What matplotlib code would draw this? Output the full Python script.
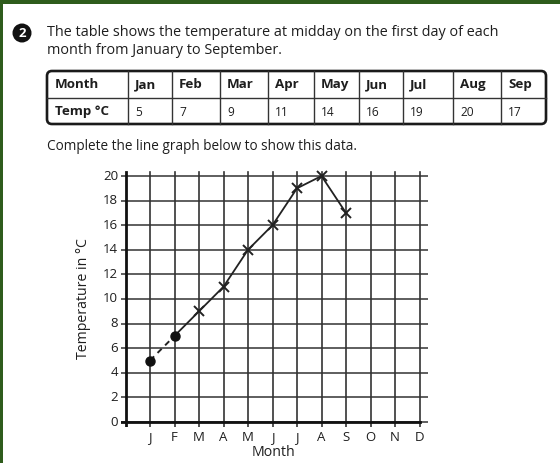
import matplotlib
matplotlib.use("Agg")
import matplotlib.pyplot as plt
from matplotlib.patches import FancyBboxPatch, Circle, Rectangle

# ---- data ----
table_months = ["Jan", "Feb", "Mar", "Apr", "May", "Jun", "Jul", "Aug", "Sep"]
table_temps = [5, 7, 9, 11, 14, 16, 19, 20, 17]
axis_month_letters = ["J", "F", "M", "A", "M", "J", "J", "A", "S", "O", "N", "D"]
y_ticks = [0, 2, 4, 6, 8, 10, 12, 14, 16, 18, 20]
given_n = 2  # Jan and Feb given as dots with dashed line

FONT = ["Open Sans", "DejaVu Sans"]
plt.rcParams["font.family"] = FONT
INK = "#1e1e1e"
GREEN = "#2e5c1c"

W, H = 560, 463
fig = plt.figure(figsize=(W / 100, H / 100), dpi=100)
fig.patch.set_facecolor("white")

# background overlay axes in pixel coordinates
bg = fig.add_axes([0, 0, 1, 1])
bg.set_xlim(0, W)
bg.set_ylim(H, 0)
bg.axis("off")

# green frame (top and left)
bg.add_patch(Rectangle((0, 0), W, 4, color=GREEN, lw=0))
bg.add_patch(Rectangle((0, 0), 3, H, color=GREEN, lw=0))

# question number
bg.add_patch(Circle((22, 33), 9.5, color="#111111", lw=0))
bg.text(22, 33.5, "2", color="white", fontsize=9.5, fontweight="bold",
        ha="center", va="center")

bg.text(47, 33, "The table shows the temperature at midday on the first day of each",
        fontsize=10.4, color=INK, ha="left", va="center")
bg.text(47, 51, "month from January to September.",
        fontsize=10.4, color=INK, ha="left", va="center")

# table
tx0, tx1, ty0, ty1, tym = 47, 546, 71, 124, 98
bg.add_patch(FancyBboxPatch((tx0, ty0), tx1 - tx0, ty1 - ty0,
                            boxstyle="round,pad=0,rounding_size=5",
                            fill=False, ec="#1a1a1a", lw=1.9))
bg.plot([tx0, tx1], [tym, tym], color="#333333", lw=1.0)
col_x = [128, 172, 220, 268, 314, 359, 403, 453, 501]
for cx in col_x:
    bg.plot([cx, cx], [ty0, ty1], color="#333333", lw=1.0)
bg.text(tx0 + 8, (ty0 + tym) / 2, "Month", fontsize=9.6, fontweight="bold",
        color=INK, ha="left", va="center")
bg.text(tx0 + 8, (tym + ty1) / 2, "Temp °C", fontsize=9.6, fontweight="bold",
        color=INK, ha="left", va="center")
for i, (m, t) in enumerate(zip(table_months, table_temps)):
    bg.text(col_x[i] + 7, (ty0 + tym) / 2, m, fontsize=9.6, fontweight="bold",
            color=INK, ha="left", va="center")
    bg.text(col_x[i] + 7, (tym + ty1) / 2 + 1, str(t), fontsize=8.6,
            color=INK, ha="left", va="center")

bg.text(47, 147, "Complete the line graph below to show this data.",
        fontsize=9.8, color=INK, ha="left", va="center")

# ---- chart axes ----
# px positions: x=0 at 125.5, 24.5 px/month ; y=0 at 422, 12.3 px/unit
x0px, sx = 125.5, 24.5
y0px, sy = 422.0, 12.3
xmin, xmax = -0.2, 12.35
ymin, ymax = -0.4, 20.5
left = (x0px + xmin * sx) / W
right = (x0px + xmax * sx) / W
bottom = (H - (y0px - ymin * sy)) / H
top = (H - (y0px - ymax * sy)) / H
ax = fig.add_axes([left, bottom, right - left, top - bottom])
ax.set_xlim(xmin, xmax)
ax.set_ylim(ymin, ymax)
ax.axis("off")
ax.patch.set_alpha(0)

months_x = list(range(1, len(axis_month_letters) + 1))
for xv in months_x:
    ax.plot([xv, xv], [ymin, 20.35], color="#333333", lw=1.2, zorder=1)
for yv in y_ticks:
    ax.plot([xmin, xmax], [yv, yv], color="#333333", lw=1.1, zorder=1)
# main axes
ax.plot([0, 0], [ymin, 20.35], color="#111111", lw=2.0, zorder=2)
ax.plot([xmin, 12], [0, 0], color="#111111", lw=2.0, zorder=2)

for yv in y_ticks:
    ax.text(-0.3, yv, str(yv), fontsize=9.5, color=INK, ha="right", va="center")
for xv, lab in zip(months_x, axis_month_letters):
    ax.text(xv, -1.3, lab, fontsize=9.5, color=INK, ha="center", va="center")

ax.text(6.05, -2.5, "Month", fontsize=10.2, color=INK, ha="center", va="center")
ax.text(-1.72, 10, "Temperature in °C", fontsize=10.2, color=INK, ha="center",
        va="center", rotation=90)

# data line
xs = months_x[:len(table_temps)]
ax.plot(xs[:given_n], table_temps[:given_n], color="#222222", lw=1.4,
        ls=(0, (3, 2.5)), zorder=3)
ax.plot(xs[:given_n], table_temps[:given_n], "o", color="#111111", ms=6.5, zorder=4)
ax.plot(xs[given_n - 1:], table_temps[given_n - 1:], color="#222222", lw=1.3, zorder=3)
ax.plot(xs[given_n:], table_temps[given_n:], "x", color="#222222", ms=7, mew=1.4,
        zorder=4)

fig.savefig("out.png", dpi=100, facecolor="white")
